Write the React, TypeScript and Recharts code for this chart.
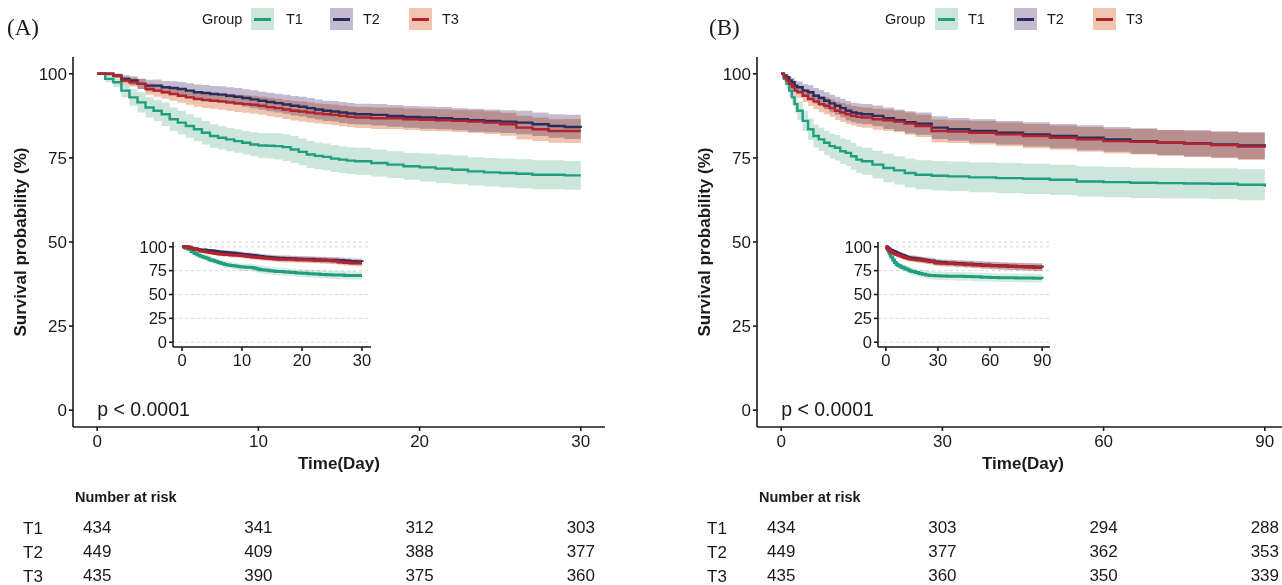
import { ComposedChart, Area, Line, XAxis, YAxis, CartesianGrid } from "recharts";

const groups = ["T1", "T2", "T3"];
const lineColors = ["#1f9e80", "#2a2b5e", "#b2232d"];
const bandColors = ["#cde6dc", "#c5bbd1", "#efc5b0"];
const yTicks = [0, 25, 50, 75, 100];

// (A) 30-day follow-up
const timeA = [0, 0.5, 1, 1.5, 2, 2.5, 3, 3.5, 4, 4.5, 5, 5.5, 6, 6.5, 7, 7.5, 8, 8.5, 9, 9.5, 10, 10.5, 11, 11.5, 12, 12.5, 13, 13.5, 14, 14.5, 15, 15.5, 16, 17, 18, 19, 20, 21, 22, 23, 24, 25, 26, 27, 28, 29, 30];
const survA_T1 = [100, 98.5, 97.5, 95, 93, 91.5, 90, 89, 88, 86.5, 85.5, 84.5, 83.5, 82.5, 81.5, 81, 80.5, 80, 79.5, 79, 78.7, 78.6, 78.5, 78.2, 77.5, 76.8, 76, 75.6, 75.3, 74.8, 74.5, 74.2, 74, 73.5, 73, 72.5, 72.2, 71.8, 71.5, 71, 70.7, 70.5, 70.3, 70, 70, 69.8, 69.8];
const lowA_T1 = [100, 97.5, 96, 93, 90.5, 88.5, 87, 86, 84.5, 83, 82, 81, 80, 79, 78, 77.5, 77, 76.5, 76, 75.5, 75, 74.8, 74.5, 74.1, 73.5, 72.8, 72, 71.6, 71.3, 70.8, 70.5, 70.2, 70, 69.5, 69, 68.5, 68, 67.5, 67.2, 66.8, 66.5, 66.2, 66, 65.7, 65.7, 65.5, 65.5];
const highA_T1 = [100, 99.5, 99, 97, 95.5, 94.5, 93, 92.2, 91.5, 90, 89, 88, 87, 86, 85, 84.5, 84, 83.5, 83, 82.6, 82.4, 82.4, 82.3, 82, 81.5, 80.8, 80, 79.6, 79.3, 78.8, 78.5, 78.2, 78, 77.5, 77, 76.5, 76.3, 76, 75.7, 75.2, 75, 74.8, 74.6, 74.3, 74.3, 74.1, 74.1];
const survA_T2 = [100, 100, 99.5, 98.5, 98, 97, 96.5, 96.5, 96, 95.8, 95.5, 95, 94.5, 94.3, 94, 93.8, 93.5, 93.2, 92.8, 92.4, 92, 91.6, 91.3, 90.9, 90.5, 90.2, 89.8, 89.4, 89, 88.8, 88.5, 88.2, 88, 87.8, 87.5, 87.2, 87, 86.8, 86.5, 86.2, 86, 85.8, 85.5, 85, 84.5, 84.2, 84];
const lowA_T2 = [100, 99.5, 98.8, 97.4, 96.7, 95.5, 94.8, 94.7, 94.1, 93.8, 93.4, 92.8, 92.2, 92.0, 91.6, 91.4, 91.0, 90.7, 90.2, 89.8, 89.3, 88.9, 88.5, 88.1, 87.6, 87.3, 86.8, 86.4, 86.0, 85.8, 85.4, 85.1, 84.9, 84.6, 84.3, 84.0, 83.7, 83.5, 83.2, 82.8, 82.6, 82.4, 82.0, 81.5, 81.0, 80.6, 80.4];
const highA_T2 = [100, 100, 100, 99.6, 99.3, 98.5, 98.2, 98.3, 97.9, 97.8, 97.6, 97.2, 96.8, 96.7, 96.4, 96.3, 96.0, 95.8, 95.4, 95.1, 94.7, 94.4, 94.1, 93.8, 93.4, 93.2, 92.8, 92.4, 92.0, 91.9, 91.6, 91.3, 91.1, 91.0, 90.7, 90.4, 90.3, 90.1, 89.8, 89.6, 89.4, 89.2, 89.0, 88.5, 88.0, 87.8, 87.6];
const survA_T3 = [100, 100, 99.5, 98, 97.5, 97, 95.5, 95, 94.5, 94, 93.5, 93, 92.5, 92.2, 92, 91.8, 91.5, 91.2, 91, 90.8, 90.5, 90.1, 89.8, 89.4, 89, 88.8, 88.5, 88.2, 88, 87.8, 87.5, 87.2, 87, 86.8, 86.8, 86.5, 86.3, 86.2, 86, 85.8, 85.5, 85, 84, 83.5, 83, 83, 83];
const lowA_T3 = [100, 99.5, 98.8, 96.9, 96.2, 95.5, 93.8, 93.2, 92.6, 92.0, 91.4, 90.8, 90.2, 89.85, 89.6, 89.35, 89.0, 88.65, 88.4, 88.15, 87.8, 87.35, 87.0, 86.55, 86.1, 85.85, 85.5, 85.2, 85.0, 84.75, 84.4, 84.1, 83.9, 83.6, 83.6, 83.3, 83.0, 82.9, 82.7, 82.4, 82.1, 81.6, 80.5, 80.0, 79.5, 79.4, 79.4];
const highA_T3 = [100, 100, 100, 99.1, 98.8, 98.5, 97.2, 96.8, 96.4, 96.0, 95.6, 95.2, 94.8, 94.55, 94.4, 94.25, 94.0, 93.75, 93.6, 93.45, 93.2, 92.85, 92.6, 92.25, 91.9, 91.75, 91.5, 91.2, 91.0, 90.85, 90.6, 90.3, 90.1, 90.0, 90.0, 89.7, 89.6, 89.5, 89.3, 89.2, 88.9, 88.4, 87.5, 87.0, 86.5, 86.6, 86.6];
const ticksA = [0, 10, 20, 30];
const riskA = [
  [434, 341, 312, 303],
  [449, 409, 388, 377],
  [435, 390, 375, 360],
];

// (B) 90-day follow-up
const timeB = [0, 0.5, 1, 1.5, 2, 2.5, 3, 4, 5, 6, 7, 8, 9, 10, 11, 12, 13, 14, 15, 17, 19, 21, 23, 25, 28, 31, 35, 40, 45, 50, 55, 60, 65, 70, 75, 80, 85, 90];
const survB_T1 = [100, 98.5, 97, 95, 93, 91, 89, 86, 83.5, 81.5, 80.5, 79.5, 78.5, 78, 77, 76.5, 75.5, 74.5, 74, 73, 72, 71.3, 70.5, 70, 69.7, 69.5, 69.2, 69, 68.8, 68.5, 68, 67.8, 67.6, 67.5, 67.4, 67.3, 67, 66.4];
const lowB_T1 = [100, 97.5, 95.5, 93, 90.8, 88.5, 86.3, 83, 80.3, 78.1, 77, 75.9, 74.8, 74.2, 73.2, 72.6, 71.5, 70.5, 70, 68.9, 67.8, 67.1, 66.2, 65.7, 65.3, 65.1, 64.8, 64.5, 64.3, 64.0, 63.5, 63.3, 63.1, 63.0, 62.9, 62.7, 62.4, 61.8];
const highB_T1 = [100, 99.5, 98.5, 97, 95.2, 93.5, 91.7, 89, 86.7, 84.9, 84, 83.1, 82.2, 81.8, 80.8, 80.4, 79.5, 78.5, 78, 77.1, 76.2, 75.5, 74.8, 74.3, 74.1, 73.9, 73.6, 73.5, 73.3, 73.0, 72.5, 72.3, 72.1, 72.0, 71.9, 71.9, 71.6, 71.0];
const survB_T2 = [100, 99.5, 99, 98, 97.5, 96.5, 96, 95, 94.5, 93.5, 92.8, 92, 91.2, 90.5, 89.8, 89, 88.5, 88.2, 88, 87.5, 86.8, 86.2, 85.6, 85.2, 84, 83.5, 83, 82.5, 82, 81.5, 81, 80.5, 80, 79.5, 79.3, 79, 78.7, 78.5];
const lowB_T2 = [100, 99.0, 98.2, 96.9, 96.2, 95.0, 94.3, 93.1, 92.4, 91.2, 90.4, 89.5, 88.6, 87.8, 87.0, 86.1, 85.6, 85.2, 85.0, 84.4, 83.6, 83.0, 82.3, 81.9, 80.6, 80.1, 79.5, 79.0, 78.4, 77.9, 77.3, 76.8, 76.2, 75.7, 75.4, 75.1, 74.7, 74.5];
const highB_T2 = [100, 100, 99.8, 99.1, 98.8, 98.0, 97.7, 96.9, 96.6, 95.8, 95.2, 94.5, 93.8, 93.2, 92.6, 91.9, 91.4, 91.2, 91.0, 90.6, 90.0, 89.4, 88.9, 88.5, 87.4, 86.9, 86.5, 86.0, 85.6, 85.1, 84.7, 84.2, 83.8, 83.3, 83.2, 82.9, 82.7, 82.5];
const survB_T3 = [100, 99, 98, 97, 96, 95, 94.5, 93.5, 92.5, 91.8, 91, 90.5, 89.8, 89, 88.5, 88, 87.5, 87.2, 87, 86.5, 86.2, 85.8, 85.2, 84.5, 83, 82.8, 82.5, 82, 81.5, 81, 80.5, 80, 79.8, 79.5, 79.2, 78.8, 78.4, 78];
const lowB_T3 = [100, 98.5, 97.2, 95.9, 94.7, 93.5, 92.8, 91.6, 90.4, 89.5, 88.6, 88.0, 87.2, 86.3, 85.7, 85.1, 84.6, 84.2, 84.0, 83.4, 83.0, 82.6, 81.9, 81.2, 79.6, 79.4, 79.0, 78.5, 77.9, 77.4, 76.8, 76.3, 76.0, 75.7, 75.3, 74.9, 74.4, 74.0];
const highB_T3 = [100, 99.5, 98.8, 98.1, 97.3, 96.5, 96.2, 95.4, 94.6, 94.1, 93.4, 93.0, 92.4, 91.7, 91.3, 90.9, 90.4, 90.2, 90.0, 89.6, 89.4, 89.0, 88.5, 87.8, 86.4, 86.2, 86.0, 85.5, 85.1, 84.6, 84.2, 83.7, 83.6, 83.3, 83.1, 82.7, 82.4, 82.0];
const ticksB = [0, 30, 60, 90];
const riskB = [
  [434, 303, 294, 288],
  [449, 377, 362, 353],
  [435, 360, 350, 339],
];

const SANS = "'Liberation Sans', Arial, Helvetica, sans-serif";
const INK = "#1a1a1a";

const buildRows = (time: number[], surv: number[][], low: number[][], high: number[][]) =>
  time.map((t, i) => ({
    t,
    s0: surv[0][i], s1: surv[1][i], s2: surv[2][i],
    b0: [low[0][i], high[0][i]],
    b1: [low[1][i], high[1][i]],
    b2: [low[2][i], high[2][i]],
  }));

const rowsA = buildRows(timeA, [survA_T1, survA_T2, survA_T3], [lowA_T1, lowA_T2, lowA_T3], [highA_T1, highA_T2, highA_T3]);
const rowsB = buildRows(timeB, [survB_T1, survB_T2, survB_T3], [lowB_T1, lowB_T2, lowB_T3], [highB_T1, highB_T2, highB_T3]);

const axisStroke = { stroke: INK, strokeWidth: 1.6 };

const XTitle = (props: any) => {
  const vb = props.viewBox || { x: 73, y: 427, width: 532 };
  return (
    <text x={vb.x + vb.width / 2} y={vb.y + 42} textAnchor="middle" fontSize={17} fontWeight={700} fill={INK}>
      Time(Day)
    </text>
  );
};

const YTitle = (props: any) => {
  const vb = props.viewBox || { x: 33, y: 57, height: 370 };
  const cx = vb.x - 7;
  const cy = vb.y + vb.height / 2;
  return (
    <text x={cx} y={cy} transform={`rotate(-90 ${cx} ${cy})`} textAnchor="middle" fontSize={17} fontWeight={700} fill={INK}>
      Survival probability (%)
    </text>
  );
};

interface Txt {
  x: number;
  y: number;
  size: number;
  center?: boolean;
  bold?: boolean;
  serif?: boolean;
  children: React.ReactNode;
}

const T = ({ x, y, size, center, bold, serif, children }: Txt) => (
  <div
    style={{
      position: "absolute", left: x, top: y, fontSize: size, lineHeight: 1,
      transform: center ? "translate(-50%, -50%)" : "translateY(-50%)",
      fontWeight: bold ? 700 : 400, whiteSpace: "nowrap", color: INK,
      fontFamily: serif ? "'Liberation Serif', 'DejaVu Serif', serif" : SANS,
    }}
  >
    {children}
  </div>
);

interface PanelProps {
  dx: number;
  letterX: number;
  letter: string;
  rows: ReturnType<typeof buildRows>;
  xMax: number;
  ticks: number[];
  risk: number[][];
  legend: { group: number; keys: number[]; labels: number[] };
  inset: { left: number; plotW: number };
}

const Panel = ({ dx, letterX, letter, rows, xMax, ticks, risk, legend, inset }: PanelProps) => {
  const pad = xMax * 0.05;
  const plotL = dx + 73;
  const plotW = 532;
  const xPix = (t: number) => plotL + ((t + pad) / (xMax + 2 * pad)) * plotW;
  return (
    <>
      <T x={letterX} y={27} size={23} serif>{letter}</T>

      {/* legend */}
      <T x={legend.group} y={19} size={14.5}>Group</T>
      {groups.map((g, i) => (
        <div key={g}>
          <div style={{ position: "absolute", left: legend.keys[i], top: 8, width: 23, height: 22, background: bandColors[i] }}>
            <div style={{ position: "absolute", left: 3, right: 3, top: 9.5, height: 3.5, background: lineColors[i] }} />
          </div>
          <T x={legend.labels[i]} y={19} size={14.5}>{g}</T>
        </div>
      ))}

      {/* main Kaplan-Meier plot */}
      <div style={{ position: "absolute", left: dx, top: 0 }}>
        <ComposedChart width={640} height={482} data={rows} margin={{ top: 57, right: 35, left: 33, bottom: 0 }}>
          <XAxis
            type="number" dataKey="t" domain={[-pad, xMax + pad]} ticks={ticks}
            height={55} tickSize={4} tickMargin={4}
            axisLine={axisStroke} tickLine={axisStroke}
            tick={{ fill: INK, fontSize: 17 }}
            label={{ content: XTitle }}
          />
          <YAxis
            type="number" domain={[-5, 105]} ticks={yTicks} width={40}
            tickSize={4} tickMargin={2}
            axisLine={axisStroke} tickLine={axisStroke}
            tick={{ fill: INK, fontSize: 17 }}
            label={{ content: YTitle }}
          />
          {groups.map((g, i) => (
            <Area
              key={`band-${g}`} dataKey={`b${i}`} type="stepAfter" stroke="none"
              fill={bandColors[i]} fillOpacity={1} className="km-band"
              dot={false} activeDot={false} isAnimationActive={false}
            />
          ))}
          {groups.map((g, i) => (
            <Line
              key={`line-${g}`} dataKey={`s${i}`} type="stepAfter" stroke={lineColors[i]}
              strokeWidth={2.4} dot={false} activeDot={false} isAnimationActive={false}
            />
          ))}
        </ComposedChart>
      </div>

      {/* inset */}
      <div style={{ position: "absolute", left: inset.left - 45, top: 237 }}>
        <ComposedChart width={45 + inset.plotW + 10} height={136} data={rows} margin={{ top: 5, right: 10, left: 0, bottom: 0 }}>
          <CartesianGrid vertical={false} stroke="#d8d8d8" strokeDasharray="3 3" />
          <XAxis
            type="number" dataKey="t" domain={[-pad, xMax + pad]} ticks={ticks}
            height={26} tickSize={4} tickMargin={3}
            axisLine={axisStroke} tickLine={axisStroke}
            tick={{ fill: INK, fontSize: 16.5 }}
          />
          <YAxis
            type="number" domain={[-5, 105]} ticks={yTicks} width={45}
            tickSize={4} tickMargin={2} interval={0}
            axisLine={axisStroke} tickLine={axisStroke}
            tick={{ fill: INK, fontSize: 16.5 }}
          />
          {groups.map((g, i) => (
            <Area
              key={`iband-${g}`} dataKey={`b${i}`} type="stepAfter" stroke="none"
              fill={bandColors[i]} fillOpacity={0.8} className="km-band"
              dot={false} activeDot={false} isAnimationActive={false}
            />
          ))}
          {groups.map((g, i) => (
            <Line
              key={`iline-${g}`} dataKey={`s${i}`} type="stepAfter" stroke={lineColors[i]}
              strokeWidth={3} dot={false} activeDot={false} isAnimationActive={false}
            />
          ))}
        </ComposedChart>
      </div>

      <T x={xPix(0)} y={410} size={19.5}>p &lt; 0.0001</T>

      {/* number at risk */}
      <T x={dx + 75} y={497} size={14.5} bold>Number at risk</T>
      {groups.map((g, r) => (
        <div key={`risk-${g}`}>
          <T x={dx + 23} y={528 + r * 24} size={17}>{g}</T>
          {ticks.map((t, c) => (
            <T key={t} x={xPix(t)} y={527 + r * 24} size={17} center>{risk[r][c]}</T>
          ))}
        </div>
      ))}
    </>
  );
};

export default function App() {
  return (
    <div
      style={{
        position: "absolute", left: 0, top: 0, width: 1282, height: 585,
        overflow: "hidden", background: "#fff", fontFamily: SANS, color: INK,
      }}
    >
      <style>{".km-band { mix-blend-mode: multiply; }"}</style>
      <Panel
        dx={0} letterX={7} letter="(A)" rows={rowsA} xMax={30} ticks={ticksA} risk={riskA}
        legend={{ group: 202, keys: [251, 330, 409], labels: [286, 363, 442] }}
        inset={{ left: 173, plotW: 198 }}
      />
      <Panel
        dx={684} letterX={709} letter="(B)" rows={rowsB} xMax={90} ticks={ticksB} risk={riskB}
        legend={{ group: 885, keys: [935, 1014, 1093], labels: [968, 1047, 1126] }}
        inset={{ left: 878, plotW: 172 }}
      />
    </div>
  );
}
